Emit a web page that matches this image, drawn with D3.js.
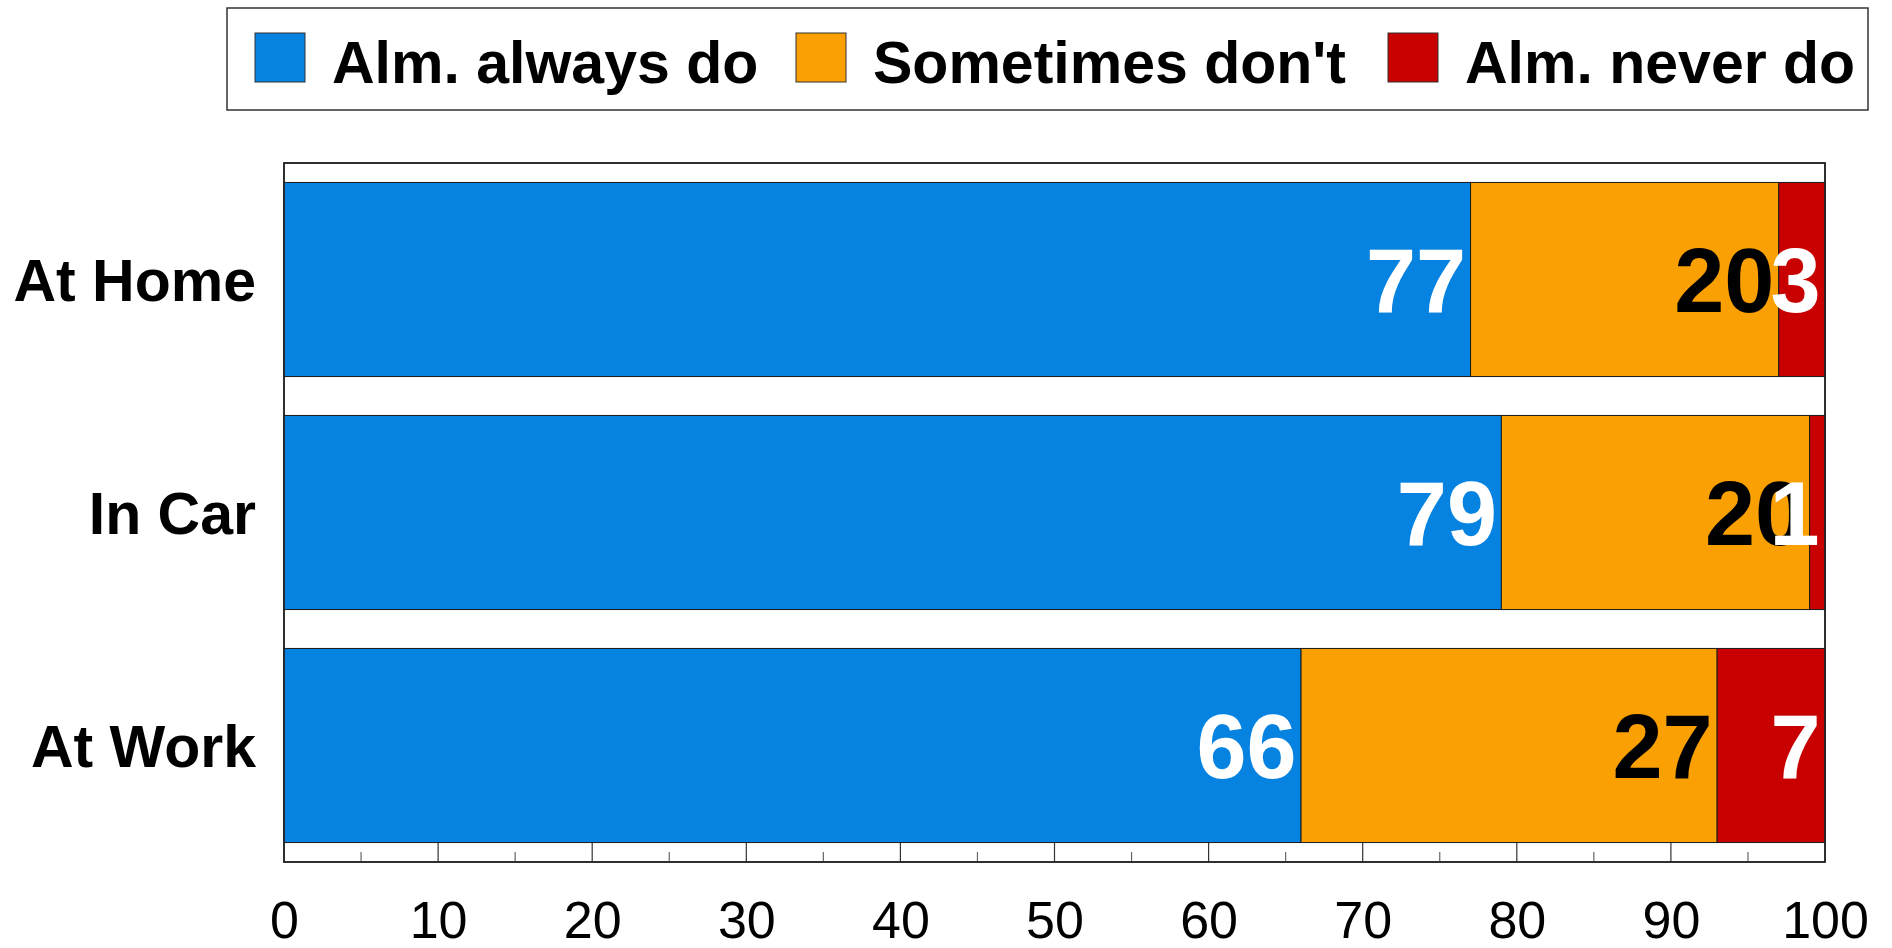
<!DOCTYPE html>
<html>
<head>
<meta charset="utf-8">
<script src="https://cdn.jsdelivr.net/npm/d3@7"></script>
<style>
  html, body { margin: 0; padding: 0; background: #fff; }
  svg { display: block; }
  text { font-family: "Liberation Sans", Arial, sans-serif; }
</style>
</head>
<body>
<svg id="chart" width="1892" height="948"></svg>
<script>
// Survey answers per setting, in percent
const categories = ["At Home", "In Car", "At Work"];
const seriesNames = ["Alm. always do", "Sometimes don't", "Alm. never do"];
const almostAlways = [77, 79, 66];
const sometimesNot = [20, 20, 27];
const almostNever = [3, 1, 7];
const tickValues = [0, 10, 20, 30, 40, 50, 60, 70, 80, 90, 100];
const minorTickValues = [5, 15, 25, 35, 45, 55, 65, 75, 85, 95];

const colors = ["#0683e0", "#faa003", "#c80000"];
const labelColors = ["#ffffff", "#000000", "#ffffff"];

const svg = d3.select("#chart");

const plot = { left: 284, right: 1825, top: 163, bottom: 862 };

const x = d3.scaleLinear().domain([0, 100]).range([plot.left, plot.right]);
const y = d3.scaleBand()
  .domain(categories)
  .range([plot.top, plot.bottom])
  .paddingInner(0.167)
  .paddingOuter(0.0835);

// Stack the three answer groups
const rows = categories.map((c, i) => ({
  category: c,
  "Alm. always do": almostAlways[i],
  "Sometimes don't": sometimesNot[i],
  "Alm. never do": almostNever[i]
}));
const stacked = d3.stack().keys(seriesNames)(rows);

// Glyph ink measurement, so value labels line up by their visible edge
const measureCtx = document.createElement("canvas").getContext("2d");
const valueFont = "bold 90px 'Liberation Sans', Arial, sans-serif";
function inkRight(str) {
  measureCtx.font = valueFont;
  measureCtx.textAlign = "left";
  return measureCtx.measureText(str).actualBoundingBoxRight;
}

// Plot frame
svg.append("rect")
  .attr("x", plot.left).attr("y", plot.top)
  .attr("width", plot.right - plot.left).attr("height", plot.bottom - plot.top)
  .attr("fill", "#fff").attr("stroke", "#222").attr("stroke-width", 1.5);

// Tick marks inside the frame, along the bottom edge
const ticks = svg.append("g");
ticks.selectAll("line.major")
  .data(tickValues.slice(1, -1))
  .join("line")
  .attr("class", "major")
  .attr("x1", d => x(d)).attr("x2", d => x(d))
  .attr("y1", plot.bottom).attr("y2", plot.bottom - 19)
  .attr("stroke", "#333").attr("stroke-width", 1.2);
ticks.selectAll("line.minor")
  .data(minorTickValues)
  .join("line")
  .attr("class", "minor")
  .attr("x1", d => x(d)).attr("x2", d => x(d))
  .attr("y1", plot.bottom).attr("y2", plot.bottom - 10)
  .attr("stroke", "#666").attr("stroke-width", 1.2);

// Bars
const groups = svg.append("g").selectAll("g")
  .data(stacked)
  .join("g")
  .attr("fill", (d, i) => colors[i]);

groups.selectAll("rect")
  .data(d => d.map(seg => ({ seg, key: d.key })))
  .join("rect")
  .attr("x", d => x(d.seg[0]))
  .attr("y", d => y(d.seg.data.category))
  .attr("width", d => x(d.seg[1]) - x(d.seg[0]))
  .attr("height", y.bandwidth())
  .attr("stroke", "#1a1a1a")
  .attr("stroke-width", 1);

// Redraw frame outline on top of bars
svg.append("rect")
  .attr("x", plot.left).attr("y", plot.top)
  .attr("width", plot.right - plot.left).attr("height", plot.bottom - plot.top)
  .attr("fill", "none").attr("stroke", "#222").attr("stroke-width", 1.5);

// Value labels, right-aligned (by ink) inside each segment, kept within the frame
stacked.forEach((layer, i) => {
  svg.append("g").selectAll("text")
    .data(layer)
    .join("text")
    .attr("x", d => {
      const label = String(d[1] - d[0]);
      const edge = Math.min(x(d[1]) - 7.5, plot.right - 3);
      return edge - inkRight(label);
    })
    .attr("y", d => y(d.data.category) + y.bandwidth() / 2 + 32)
    .attr("text-anchor", "start")
    .attr("font-size", 90)
    .attr("font-weight", "bold")
    .attr("fill", labelColors[i])
    .text(d => d[1] - d[0]);
});

// Category labels
svg.append("g").selectAll("text")
  .data(categories)
  .join("text")
  .attr("x", 256)
  .attr("y", d => y(d) + y.bandwidth() / 2 + 21)
  .attr("text-anchor", "end")
  .attr("font-size", 59)
  .attr("font-weight", "bold")
  .attr("fill", "#000")
  .text(d => d);

// Axis tick labels
const axis = d3.axisBottom(x).tickValues(tickValues).tickSize(0).tickPadding(0);
const axisG = svg.append("g")
  .attr("transform", `translate(0, ${plot.bottom})`)
  .call(axis);
axisG.select(".domain").remove();
axisG.selectAll("text")
  .attr("dy", null)
  .attr("y", 76)
  .attr("font-size", 52)
  .attr("font-family", "'Liberation Sans', Arial, sans-serif")
  .attr("fill", "#000");

// Legend
const legend = svg.append("g");
legend.append("rect")
  .attr("x", 227).attr("y", 8)
  .attr("width", 1641).attr("height", 102)
  .attr("fill", "#fff").attr("stroke", "#333").attr("stroke-width", 1.5);

const legendX = [255, 796, 1388];
seriesNames.forEach((name, i) => {
  legend.append("rect")
    .attr("x", legendX[i]).attr("y", 33)
    .attr("width", 50).attr("height", 49)
    .attr("fill", colors[i]).attr("stroke", "#333").attr("stroke-width", 1);
  legend.append("text")
    .attr("x", legendX[i] + 77).attr("y", 83)
    .attr("font-size", 59)
    .attr("font-weight", "bold")
    .attr("fill", "#000")
    .text(name);
});
</script>
</body>
</html>
